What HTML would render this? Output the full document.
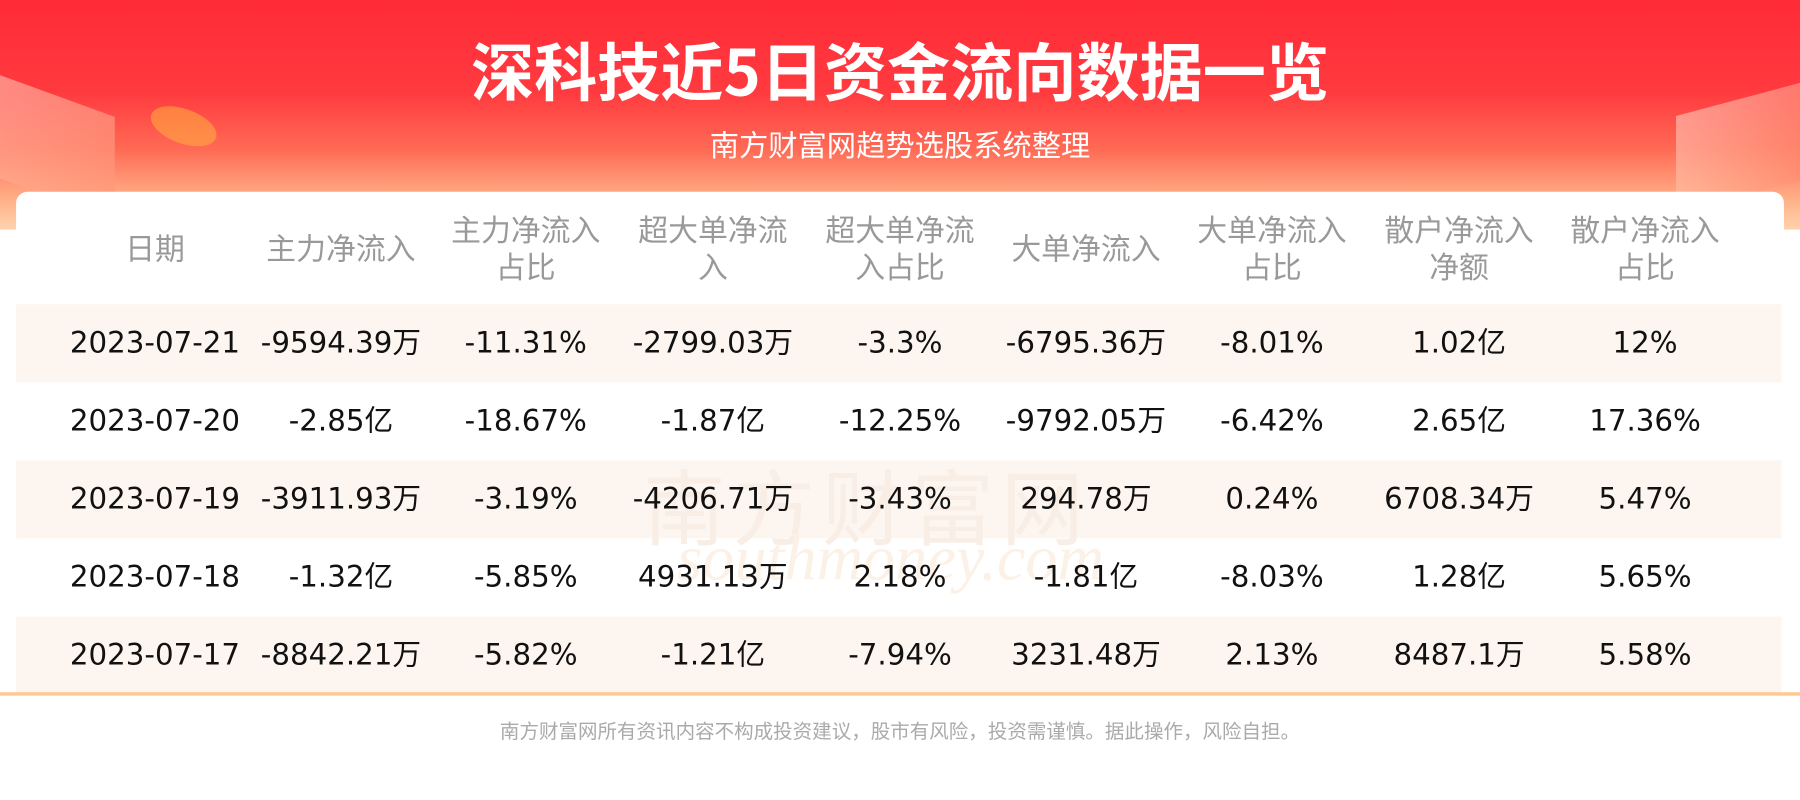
<!DOCTYPE html>
<html><head><meta charset="utf-8"><style>
html,body{margin:0;padding:0;width:1800px;height:800px;overflow:hidden;background:#fff}
#w{position:absolute;left:0;top:0;width:1568px;height:697px;transform-origin:0 0;transform:scale(1.147959,1.147959);font-family:"DejaVu Sans","Noto Sans CJK SC",sans-serif}
#hdr{position:absolute;left:0;top:0;width:1568px;height:200px;background:linear-gradient(180deg,#ff2b38 0%,#ff3a3f 40%,#ff6a55 65%,#ffb48a 88%,#ffd3ae 100%)}
.t{position:absolute;left:0;width:1568px;text-align:center;color:#fff}
#card{position:absolute;left:14px;top:167px;width:1540px;height:440px;background:#fff;border-radius:10px 10px 0 0}
.row{position:absolute;left:14px;width:1538px;height:68px}
.c{position:absolute;width:180px;height:32px;line-height:32px;text-align:center;font-size:25.5px;color:#111;transform:translateX(-90px);white-space:nowrap}
.c span{font-family:"Noto Sans CJK SC",sans-serif;font-size:25px;line-height:0;vertical-align:0}
.h{position:absolute;width:180px;text-align:center;font-size:26px;color:#999;transform:translateX(-90px);line-height:32px;font-family:"Noto Sans CJK SC",sans-serif}
.deco{position:absolute;opacity:.55}
</style></head><body><div id="w">
<div id="hdr"></div>
<div class="deco" style="left:-20px;top:80px;width:120px;height:90px;background:linear-gradient(135deg,#ffd8c8,#ff8a6a);transform:skewY(20deg)"></div>
<div class="deco" style="left:130px;top:95px;width:60px;height:30px;background:#ffb040;border-radius:50%;transform:rotate(20deg)"></div>
<div class="deco" style="left:1460px;top:85px;width:120px;height:85px;background:linear-gradient(135deg,#ffd8c8,#ff8a6a);transform:skewY(-15deg)"></div>
<div class="t" style="top:24px;font-size:55px;font-weight:bold;font-family:'Noto Sans CJK SC',sans-serif;line-height:70px">深科技近5日资金流向数据一览</div>
<div class="t" style="top:109px;font-size:25.5px;font-family:'Noto Sans CJK SC',sans-serif;line-height:34px">南方财富网趋势选股系统整理</div>
<div id="card"></div>
<div class="h" style="left:135px;top:200px">日期</div>
<div class="h" style="left:297px;top:200px">主力净流入</div>
<div class="h" style="left:458px;top:184px">主力净流入<br>占比</div>
<div class="h" style="left:621px;top:184px">超大单净流<br>入</div>
<div class="h" style="left:784px;top:184px">超大单净流<br>入占比</div>
<div class="h" style="left:946px;top:200px">大单净流入</div>
<div class="h" style="left:1108px;top:184px">大单净流入<br>占比</div>
<div class="h" style="left:1271px;top:184px">散户净流入<br>净额</div>
<div class="h" style="left:1433px;top:184px">散户净流入<br>占比</div>
<div class="row" style="top:265px;background:#fdf6f0"></div>
<div class="row" style="top:401px;background:#fdf6f0"></div>
<div class="row" style="top:537px;background:#fdf6f0"></div>
<div style="position:absolute;left:0;top:603px;width:1568px;height:3px;background:#ffc891"></div>
<div style="position:absolute;left:560px;top:385px;font-size:72px;color:#f8eee6;font-family:'Noto Sans CJK SC',sans-serif;letter-spacing:6px">南方财富网</div>
<div style="position:absolute;left:590px;top:455px;font-size:56px;color:#fcf1e6;font-style:italic;font-family:'Liberation Serif',serif">southmoney.com</div>
<div class="t" style="top:623px;color:#aaa;font-size:17px;font-family:'Noto Sans CJK SC',sans-serif">南方财富网所有资讯内容不构成投资建议，股市有风险，投资需谨慎。据此操作，风险自担。</div>
<div class="c" style="left:135px;top:283px">2023-07-21</div><div class="c" style="left:297px;top:283px">-9594.39<span>万</span></div><div class="c" style="left:458px;top:283px">-11.31%</div><div class="c" style="left:621px;top:283px">-2799.03<span>万</span></div><div class="c" style="left:784px;top:283px">-3.3%</div><div class="c" style="left:946px;top:283px">-6795.36<span>万</span></div><div class="c" style="left:1108px;top:283px">-8.01%</div><div class="c" style="left:1271px;top:283px">1.02<span>亿</span></div><div class="c" style="left:1433px;top:283px">12%</div>
<div class="c" style="left:135px;top:351px">2023-07-20</div><div class="c" style="left:297px;top:351px">-2.85<span>亿</span></div><div class="c" style="left:458px;top:351px">-18.67%</div><div class="c" style="left:621px;top:351px">-1.87<span>亿</span></div><div class="c" style="left:784px;top:351px">-12.25%</div><div class="c" style="left:946px;top:351px">-9792.05<span>万</span></div><div class="c" style="left:1108px;top:351px">-6.42%</div><div class="c" style="left:1271px;top:351px">2.65<span>亿</span></div><div class="c" style="left:1433px;top:351px">17.36%</div>
<div class="c" style="left:135px;top:419px">2023-07-19</div><div class="c" style="left:297px;top:419px">-3911.93<span>万</span></div><div class="c" style="left:458px;top:419px">-3.19%</div><div class="c" style="left:621px;top:419px">-4206.71<span>万</span></div><div class="c" style="left:784px;top:419px">-3.43%</div><div class="c" style="left:946px;top:419px">294.78<span>万</span></div><div class="c" style="left:1108px;top:419px">0.24%</div><div class="c" style="left:1271px;top:419px">6708.34<span>万</span></div><div class="c" style="left:1433px;top:419px">5.47%</div>
<div class="c" style="left:135px;top:487px">2023-07-18</div><div class="c" style="left:297px;top:487px">-1.32<span>亿</span></div><div class="c" style="left:458px;top:487px">-5.85%</div><div class="c" style="left:621px;top:487px">4931.13<span>万</span></div><div class="c" style="left:784px;top:487px">2.18%</div><div class="c" style="left:946px;top:487px">-1.81<span>亿</span></div><div class="c" style="left:1108px;top:487px">-8.03%</div><div class="c" style="left:1271px;top:487px">1.28<span>亿</span></div><div class="c" style="left:1433px;top:487px">5.65%</div>
<div class="c" style="left:135px;top:555px">2023-07-17</div><div class="c" style="left:297px;top:555px">-8842.21<span>万</span></div><div class="c" style="left:458px;top:555px">-5.82%</div><div class="c" style="left:621px;top:555px">-1.21<span>亿</span></div><div class="c" style="left:784px;top:555px">-7.94%</div><div class="c" style="left:946px;top:555px">3231.48<span>万</span></div><div class="c" style="left:1108px;top:555px">2.13%</div><div class="c" style="left:1271px;top:555px">8487.1<span>万</span></div><div class="c" style="left:1433px;top:555px">5.58%</div>
</div></body></html>
